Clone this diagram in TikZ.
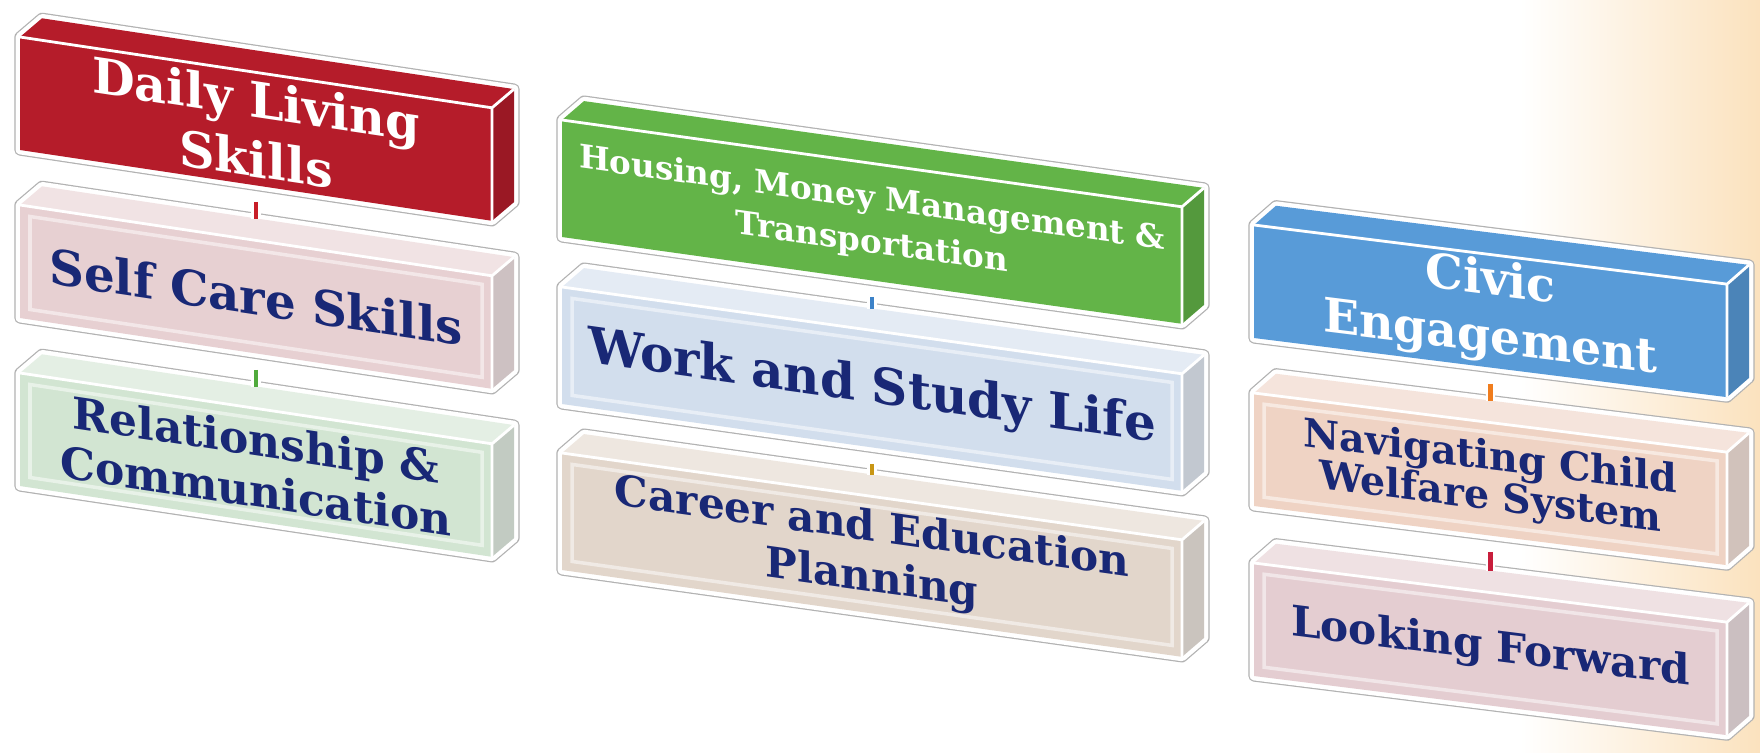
\documentclass[tikz,border=0pt]{standalone}
\usepackage{fontspec}
\setmainfont{DejaVu Serif}

\definecolor{dlsred}{RGB}{181,28,42}
\definecolor{hmgreen}{RGB}{99,180,72}
\definecolor{ceblue}{RGB}{88,155,216}
\definecolor{scpink}{RGB}{231,208,210}
\definecolor{rcgreen}{RGB}{210,229,210}
\definecolor{wsblue}{RGB}{210,222,237}
\definecolor{cebeige}{RGB}{226,214,203}
\definecolor{nvpeach}{RGB}{239,211,196}
\definecolor{lfmauve}{RGB}{228,205,209}
\definecolor{navy}{RGB}{25,40,118}
\definecolor{peach}{RGB}{251,226,190}
\definecolor{linkred}{RGB}{200,30,40}
\definecolor{linkgreen}{RGB}{80,170,60}
\definecolor{linkblue}{RGB}{60,130,200}
\definecolor{linkgold}{RGB}{200,150,20}
\definecolor{linkorange}{RGB}{240,125,30}
\definecolor{linkcrimson}{RGB}{200,30,60}

\tikzset{
  rim/.style={draw=gray!60, line width=6.4pt, line join=round},
  halo/.style={draw=white, line width=5pt, line join=round},
  edge/.style={draw=white, line width=1.6pt},
  nobevel/.style={draw=none},
  bevel/.style={draw=white, opacity=0.5, line width=2pt},
  face/.style={fill=#1, inner sep=0pt, align=center, transform shape},
  headtext/.style 2 args={text=white, font=\fontsize{#1}{#2}\selectfont\bfseries},
  subtext/.style 2 args={text=navy, font=\fontsize{#1}{#2}\selectfont\bfseries},
  link/.style={draw=white, line width=1.5pt, double=#1, double distance=2.5pt,
    shorten <=0.32cm, shorten >=0.42cm}
}

% #1 name, #2 placement, #3 width, #4 height, #5 front colour,
% #6 top colour, #7 bevel style, #8 text style, #9 text
\newcommand{\prism}[9]{%
  \pgfmathsetlengthmacro\facew{#3*0.02cm}%
  \pgfmathsetlengthmacro\faceh{#4*0.02cm}%
  \pgfmathsetlengthmacro\textw{(#3-20)*0.02cm}%
  \begin{scope}[#2]
    % outline and white rim round the block
    \draw[rim] (0,0) -- (22,22) -- (#3+22,22) -- (#3+22,22-#4) -- (#3,-#4) -- (0,-#4) -- cycle;
    \draw[halo] (0,0) -- (22,22) -- (#3+22,22) -- (#3+22,22-#4) -- (#3,-#4) -- (0,-#4) -- cycle;
    % top and side faces
    \fill[#6] (0,0) -- (22,22) -- (#3+22,22) -- (#3,0) -- cycle;
    \fill[#6!85!black] (#3,0) -- (#3+22,22) -- (#3+22,22-#4) -- (#3,-#4) -- cycle;
    % front face with its label
    \node[face=#5, minimum width=\facew, minimum height=\faceh, text width=\textw, #8]
      (#1) at (#3/2,-#4/2) {#9};
    \draw[#7] (10,-10) rectangle (#3-10,10-#4);
    \draw[edge] (0,0) -- (#3,0) -- (#3,-#4) (#3,0) -- (#3+22,22);
  \end{scope}}

\begin{document}
\begin{tikzpicture}[x=0.02cm, y=0.02cm]
  \useasboundingbox (0,0) rectangle (1760,-752);

  % background with the warm band on the right
  \fill[white] (0,0) rectangle (1760,-752);
  \shade[left color=white, right color=peach] (1520,0) rectangle (1760,-752);

  %Daily living column
  \prism{dls}{shift={(20,-37)}, yslant=-0.15}{472}{113}{dlsred}{dlsred}{nobevel}
    {headtext={28pt}{34pt}}{Daily Living\\Skills}
  \prism{scs}{shift={(20,-205)}, yslant=-0.15}{472}{113}{scpink}{scpink!60!white}{bevel}
    {subtext={27.5pt}{31pt}}{Self Care Skills}
  \prism{rc}{shift={(20,-373)}, yslant=-0.15}{472}{113}{rcgreen}{rcgreen!60!white}{bevel}
    {subtext={25pt}{29pt}}{Relationship \&\\Communication}

  %Housing column
  \prism{hmt}{shift={(562,-120)}, yslant=-0.14}{620}{117}{hmgreen}{hmgreen}{nobevel}
    {headtext={18.5pt}{25pt}}{Housing, Money Management \&\\Transportation}
  \prism{wsl}{shift={(562,-287)}, yslant=-0.14}{620}{117}{wsblue}{wsblue!60!white}{bevel}
    {subtext={28.5pt}{32pt}}{Work and Study Life}
  \prism{cep}{shift={(562,-453)}, yslant=-0.14}{620}{117}{cebeige}{cebeige!60!white}{bevel}
    {subtext={24pt}{29pt}}{Career and Education\\Planning}

  %Civic column
  \prism{ce}{shift={(1254,-225)}, yslant=-0.125}{473}{113}{ceblue}{ceblue}{nobevel}
    {headtext={27pt}{33pt}}{Civic\\Engagement}
  \prism{ncw}{shift={(1254,-393)}, yslant=-0.125}{473}{113}{nvpeach}{nvpeach!60!white}{bevel}
    {subtext={22.5pt}{23pt}}{Navigating Child\\Welfare System}
  \prism{lf}{shift={(1254,-563)}, yslant=-0.125}{473}{113}{lfmauve}{lfmauve!60!white}{bevel}
    {subtext={24pt}{28pt}}{Looking Forward}

  %Short links between the blocks
  \draw[link=linkred] (dls.south) -- (scs.north);
  \draw[link=linkgreen] (scs.south) -- (rc.north);
  \draw[link=linkblue] (hmt.south) -- (wsl.north);
  \draw[link=linkgold] (wsl.south) -- (cep.north);
  \draw[link=linkorange] (ce.south) -- (ncw.north);
  \draw[link=linkcrimson] (ncw.south) -- (lf.north);
\end{tikzpicture}
\end{document}
